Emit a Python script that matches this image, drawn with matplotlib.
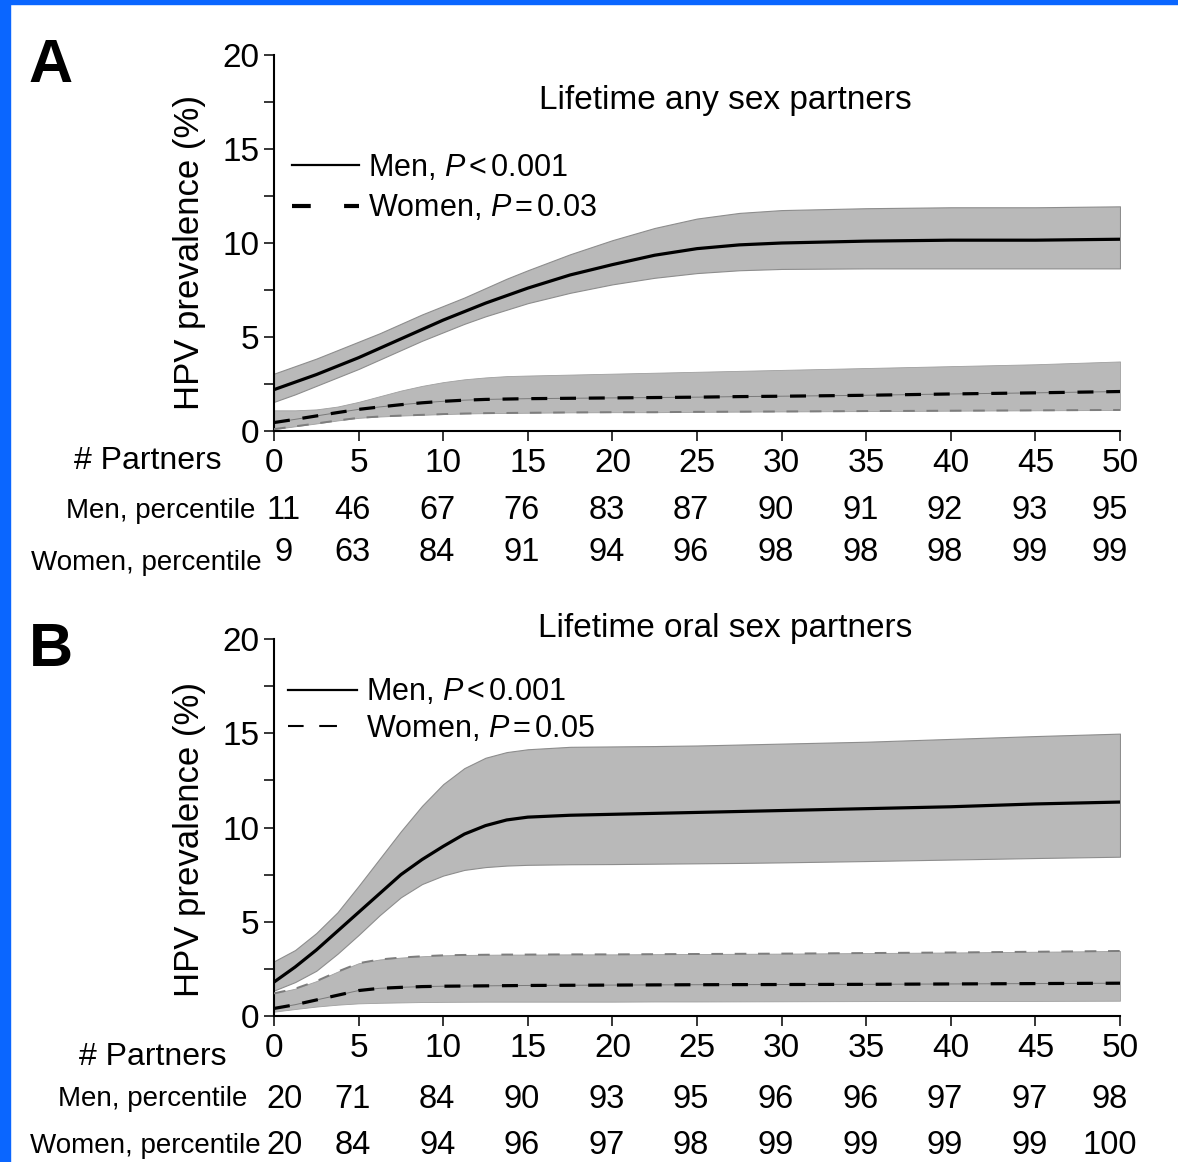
import matplotlib
matplotlib.use('Agg')
import matplotlib.pyplot as plt
from matplotlib.lines import Line2D
from matplotlib.patches import Rectangle
from matplotlib import transforms

plt.rcParams['font.family'] = ['Liberation Sans', 'DejaVu Sans']
plt.rcParams['mathtext.fontset'] = 'custom'
plt.rcParams['mathtext.rm'] = 'Liberation Sans'
plt.rcParams['mathtext.it'] = 'Liberation Sans:italic'

x_pts = [0, 1.25, 2.5, 3.75, 5, 6.25, 7.5, 8.75, 10, 11.25, 12.5, 13.75, 15,
         17.5, 20, 22.5, 25, 27.5, 30, 35, 40, 45, 50]

# panel A - lifetime any sex partners
a_men = [2.2, 2.6, 3.0, 3.45, 3.9, 4.4, 4.9, 5.4, 5.9, 6.35, 6.8, 7.2, 7.6,
         8.3, 8.85, 9.35, 9.7, 9.9, 10.0, 10.1, 10.15, 10.15, 10.2]
a_men_lo = [1.55, 1.95, 2.4, 2.85, 3.3, 3.8, 4.3, 4.8, 5.25, 5.7, 6.1, 6.45, 6.8,
            7.35, 7.8, 8.15, 8.4, 8.55, 8.62, 8.65, 8.65, 8.65, 8.65]
a_men_hi = [3.05, 3.45, 3.85, 4.3, 4.75, 5.2, 5.7, 6.2, 6.65, 7.1, 7.6, 8.1, 8.55,
            9.4, 10.15, 10.8, 11.3, 11.6, 11.75, 11.85, 11.9, 11.9, 11.95]
a_wom = [0.45, 0.62, 0.8, 0.98, 1.15, 1.28, 1.4, 1.5, 1.58, 1.64, 1.68, 1.7, 1.72,
         1.74, 1.76, 1.78, 1.8, 1.83, 1.85, 1.9, 1.97, 2.03, 2.1]
a_wom_lo = [0.1, 0.25, 0.4, 0.56, 0.7, 0.77, 0.82, 0.86, 0.9, 0.93, 0.95, 0.96, 0.97,
            0.99, 1.0, 1.0, 1.02, 1.03, 1.04, 1.06, 1.08, 1.1, 1.12]
a_wom_hi = [1.1, 1.1, 1.15, 1.3, 1.55, 1.85, 2.15, 2.4, 2.6, 2.75, 2.85, 2.92, 2.95,
            3.0, 3.05, 3.1, 3.15, 3.2, 3.25, 3.35, 3.45, 3.55, 3.7]

# panel B - lifetime oral sex partners
b_men = [1.8, 2.6, 3.5, 4.5, 5.5, 6.5, 7.5, 8.3, 9.0, 9.65, 10.1, 10.4, 10.55,
         10.65, 10.7, 10.75, 10.8, 10.85, 10.9, 11.0, 11.1, 11.25, 11.35]
b_men_lo = [1.35, 1.8, 2.4, 3.3, 4.3, 5.35, 6.3, 7.0, 7.45, 7.75, 7.9, 7.98, 8.02,
            8.05, 8.06, 8.08, 8.1, 8.12, 8.15, 8.22, 8.3, 8.38, 8.45]
b_men_hi = [2.9, 3.5, 4.4, 5.5, 6.9, 8.35, 9.8, 11.15, 12.3, 13.15, 13.7, 14.0, 14.15,
            14.28, 14.3, 14.32, 14.35, 14.4, 14.45, 14.55, 14.7, 14.85, 14.98]
b_wom = [0.4, 0.6, 0.85, 1.1, 1.35, 1.47, 1.52, 1.56, 1.58, 1.59, 1.6, 1.61, 1.62,
         1.63, 1.64, 1.65, 1.66, 1.665, 1.67, 1.68, 1.7, 1.72, 1.74]
b_wom_lo = [0.23, 0.37, 0.5, 0.6, 0.67, 0.7, 0.72, 0.74, 0.75, 0.755, 0.76, 0.76, 0.76,
            0.76, 0.76, 0.77, 0.77, 0.775, 0.78, 0.79, 0.8, 0.8, 0.81]
b_wom_hi = [1.2, 1.45, 1.85, 2.35, 2.8, 3.0, 3.1, 3.17, 3.22, 3.24, 3.25, 3.26, 3.26,
            3.27, 3.27, 3.28, 3.29, 3.3, 3.31, 3.34, 3.37, 3.41, 3.45]

partner_ticks = [0, 5, 10, 15, 20, 25, 30, 35, 40, 45, 50]
a_men_pct = [11, 46, 67, 76, 83, 87, 90, 91, 92, 93, 95]
a_wom_pct = [9, 63, 84, 91, 94, 96, 98, 98, 98, 99, 99]
b_men_pct = [20, 71, 84, 90, 93, 95, 96, 96, 97, 97, 98]
b_wom_pct = [20, 84, 94, 96, 97, 98, 99, 99, 99, 99, 100]

W, H = 1178, 1162
fig = plt.figure(figsize=(W / 100, H / 100), dpi=100)
fig.patch.set_facecolor('white')

def fx(px):
    return px / W

def fy(px):
    return 1 - px / H

# blue frame on left and top
fig.patches.append(Rectangle((0, 0), fx(10), 1, transform=fig.transFigure, color='#0a66ff', zorder=0))
fig.patches.append(Rectangle((0, fy(4)), 1, 4 / H, transform=fig.transFigure, color='#0a66ff', zorder=0))

axA = fig.add_axes([fx(274), fy(431), (1120 - 274) / W, (431 - 55) / H])
axB = fig.add_axes([fx(274), fy(1016), (1120 - 274) / W, (1016 - 639) / H])


def draw_panel(ax, men, men_lo, men_hi, wom, wom_lo, wom_hi, gray_edge):
    band = '#b9b9b9'
    ax.fill_between(x_pts, men_lo, men_hi, facecolor=band, edgecolor='#8d8d8d', lw=0.8, zorder=1)
    ax.fill_between(x_pts, wom_lo, wom_hi, facecolor=band, edgecolor='#a0a0a0', lw=0.6, zorder=1)
    ax.plot(x_pts, men, color='k', lw=2.3, zorder=4)
    ax.plot(x_pts, wom, color='#7a7a7a', lw=0.7, zorder=2)
    ax.plot(x_pts, wom, color='k', lw=2.3, ls=(0, (5, 4)), zorder=4)
    ax.plot(x_pts, gray_edge, color='#7d7d7d', lw=1.4, ls=(0, (6, 6)), zorder=3)

    ax.set_xlim(0, 50)
    ax.set_ylim(0, 20)
    ax.set_xticks(partner_ticks)
    ax.set_yticks([0, 5, 10, 15, 20])
    ax.set_yticks([2.5, 7.5, 12.5, 17.5], minor=True)
    for s in ['top', 'right']:
        ax.spines[s].set_visible(False)
    for s in ['left', 'bottom']:
        ax.spines[s].set_linewidth(1.5)
    ax.tick_params(which='both', direction='out', length=7.5, width=1.1)
    ax.tick_params(axis='x', labelsize=24, pad=5)
    ax.tick_params(axis='y', labelsize=24, pad=3)
    ax.tick_params(axis='x', which='minor', bottom=False)
    ax.set_ylabel('HPV prevalence (%)', fontsize=25)


draw_panel(axA, a_men, a_men_lo, a_men_hi, a_wom, a_wom_lo, a_wom_hi, a_wom_lo)
draw_panel(axB, b_men, b_men_lo, b_men_hi, b_wom, b_wom_lo, b_wom_hi, b_wom_hi)
axA.yaxis.set_label_coords(-0.08, 0.474)
axB.yaxis.set_label_coords(-0.08, 0.467)

# titles
axA.text(0.533, 0.88, 'Lifetime any sex partners', transform=axA.transAxes,
         ha='center', va='center', fontsize=24)
axB.text(0.533, 1.029, 'Lifetime oral sex partners', transform=axB.transAxes,
         ha='center', va='center', fontsize=24)

# legends
hA = [Line2D([], [], color='k', lw=1.6),
      Line2D([], [], color='k', lw=3.0, ls=(0, (4.5, 8)))]
axA.legend(hA, ['Men, $P\\,$<$\\,$0.001', 'Women, $P\\,$=$\\,$0.03'], loc='upper left',
           bbox_to_anchor=(0.021, 0.74), frameon=False, borderpad=0, borderaxespad=0,
           handlelength=2.2, handletextpad=0.3, labelspacing=0.35, fontsize=22)
hB = [Line2D([], [], color='k', lw=1.6),
      Line2D([], [], color='k', lw=1.5, ls=(0, (7.5, 7.5, 8.5, 50)))]
axB.legend(hB, ['Men, $P\\,$<$\\,$0.001', 'Women, $P\\,$=$\\,$0.05'], loc='upper left',
           bbox_to_anchor=(0.017, 0.898), frameon=False, borderpad=0, borderaxespad=0,
           handlelength=2.25, handletextpad=0.3, labelspacing=0.2, fontsize=22)

# panel letters
fig.text(fx(51), fy(67), 'A', fontsize=44, fontweight='bold', ha='center', va='center')
fig.text(fx(51), fy(651), 'B', fontsize=44, fontweight='bold', ha='center', va='center')


def pct_rows(ax, y_part, x_part, y_men, x_men, y_wom_lab, x_wom, y_wom, men_pct, wom_pct):
    fig.text(fx(x_part), fy(y_part), '# Partners', ha='right', va='center', fontsize=23)
    fig.text(fx(x_men), fy(y_men), 'Men, percentile', ha='right', va='center', fontsize=20)
    fig.text(fx(x_wom), fy(y_wom_lab), 'Women, percentile', ha='right', va='center', fontsize=20)
    base = transforms.blended_transform_factory(ax.transData, fig.transFigure)
    n = len(partner_ticks)
    for i, t in enumerate(partner_ticks):
        dx = 10 if i == 0 else (-10 if i == n - 1 else -6)
        tr = transforms.offset_copy(base, fig=fig, x=dx, y=0, units='dots')
        ax.text(t, fy(y_men), str(men_pct[i]), transform=tr, ha='center', va='center', fontsize=23.5)
        ax.text(t, fy(y_wom), str(wom_pct[i]), transform=tr, ha='center', va='center', fontsize=23.5)


pct_rows(axA, 461, 222, 511, 255, 563, 262, 553, a_men_pct, a_wom_pct)
pct_rows(axB, 1057, 227, 1099, 247, 1146, 261, 1146, b_men_pct, b_wom_pct)

fig.savefig('out.png', dpi=100)
